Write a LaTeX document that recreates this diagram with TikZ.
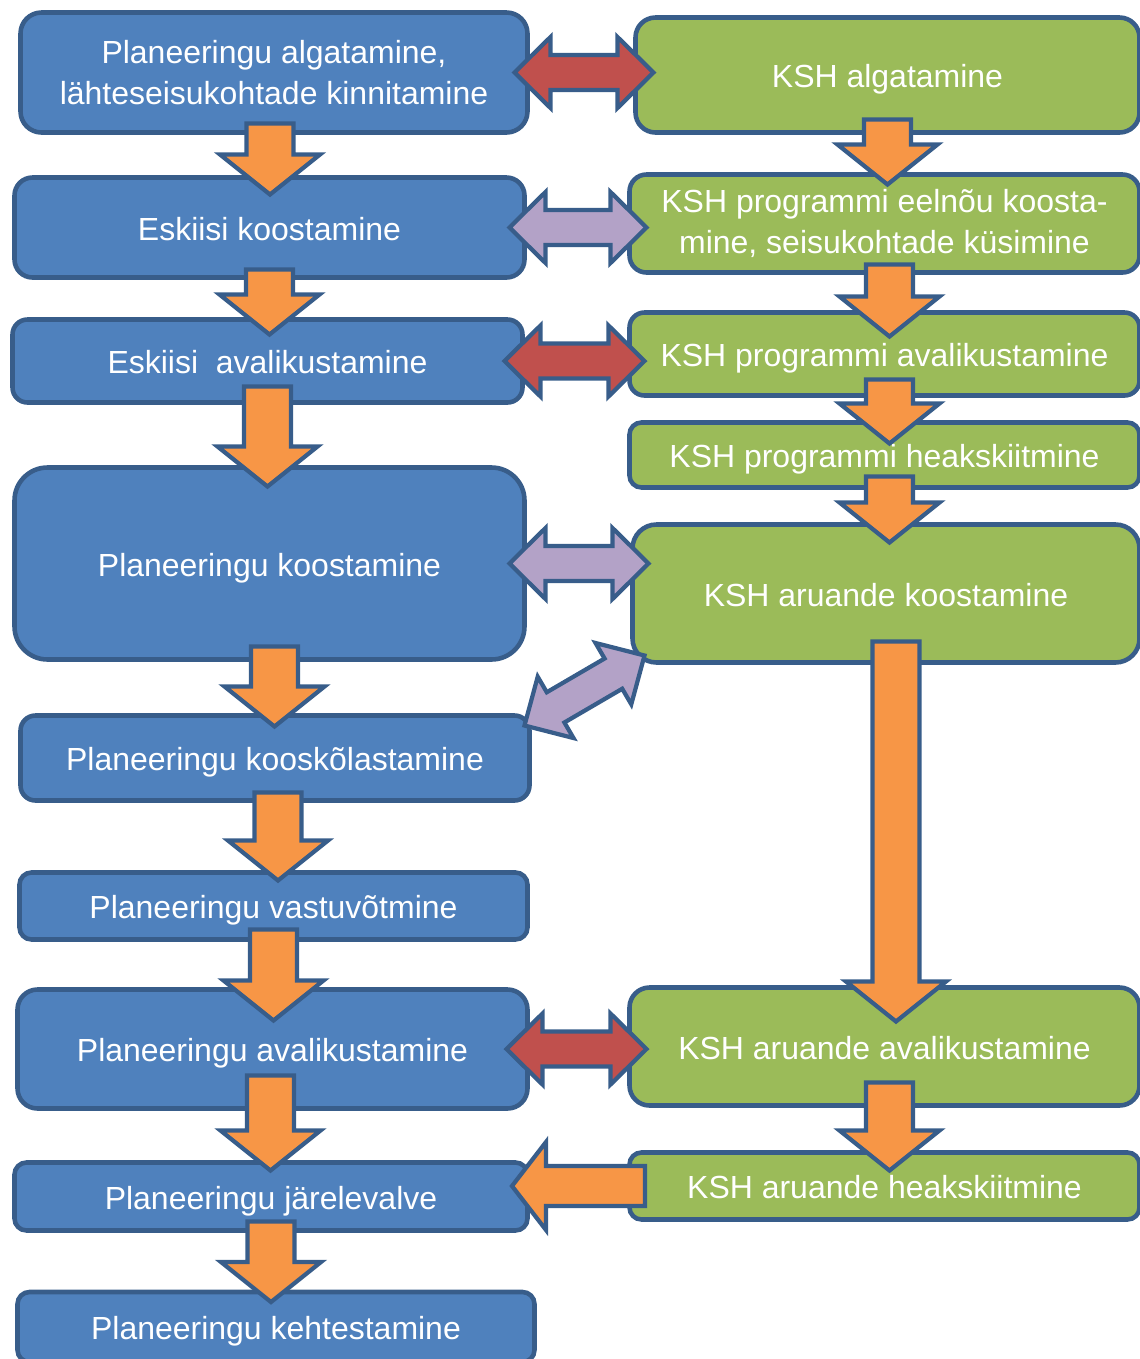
\documentclass[tikz,border=0pt]{standalone}
\usepackage{fontspec}
\setmainfont{Liberation Sans}
\usetikzlibrary{calc}

\definecolor{planB}{HTML}{4F81BD}
\definecolor{kshG}{HTML}{9BBB59}
\definecolor{edgeB}{HTML}{385D8A}
\definecolor{orangeA}{HTML}{F79646}
\definecolor{redA}{HTML}{C0504D}
\definecolor{lilacA}{HTML}{B3A2C7}

% same height and depth for every one-line text
\newcommand{\lstrut}{\rule[-0.21em]{0pt}{1.21em}}

\tikzset{
	stepbox/.style={rectangle, draw=edgeB, line width=1.3pt, text=white, align=center, inner sep=0pt, outer sep=0pt},
	plantwo/.style={stepbox, fill=planB},
	kshtwo/.style={stepbox, fill=kshG},
	planbox/.style={plantwo, execute at begin node=\lstrut},
	kshbox/.style={kshtwo, execute at begin node=\lstrut},
	blockarrow/.style={draw=edgeB, line width=1.2pt, line join=miter}
}

% block arrow from (ba) to (bb): fill, head length, head half width, shaft half width
\newcommand{\blkone}[4]{%
	\draw[blockarrow, fill=#1] (bb) -- ($(bb)!#2!(ba)!#3!90:(ba)$) -- ($(bb)!#2!(ba)!#4!90:(ba)$)
	-- ($(ba)!#4!-90:(bb)$) -- ($(ba)!#4!90:(bb)$)
	-- ($(bb)!#2!(ba)!#4!-90:(ba)$) -- ($(bb)!#2!(ba)!#3!-90:(ba)$) -- cycle;}
% double block arrow between (ba) and (bb)
\newcommand{\blktwo}[4]{%
	\draw[blockarrow, fill=#1] (ba) -- ($(ba)!#2!(bb)!#3!90:(bb)$) -- ($(ba)!#2!(bb)!#4!90:(bb)$)
	-- ($(bb)!#2!(ba)!#4!-90:(ba)$) -- ($(bb)!#2!(ba)!#3!-90:(ba)$) -- (bb)
	-- ($(bb)!#2!(ba)!#3!90:(ba)$) -- ($(bb)!#2!(ba)!#4!90:(ba)$)
	-- ($(ba)!#2!(bb)!#4!-90:(bb)$) -- ($(ba)!#2!(bb)!#3!-90:(bb)$) -- cycle;}
% orange arrow down: [x shift] upper node, lower node, depth in upper, depth in lower
\newcommand{\blkdown}[5][0]{%
	\coordinate (ba) at ($(#2.south)+(#1,-#4)$);
	\coordinate (bb) at ($(ba|-#3.north)+(0,#5)$);
	\blkone{orangeA}{0.4cm}{0.5cm}{0.235cm}}
% double arrow across: colour, left node, right node, depth left, depth right
\newcommand{\blkside}[5]{%
	\coordinate (ba) at ($(#2.east)+(-#4,0)$);
	\coordinate (bb) at ($(ba-|#3.west)+(#5,0)$);
	\blktwo{#1}{0.36cm}{0.355cm}{0.175cm}}

\begin{document}
\begin{tikzpicture}[y=-1cm, font={\fontsize{9.1}{11.6}\selectfont}]
	\useasboundingbox (0,0) rectangle (11.4,13.59);
	% planeering
	\node[plantwo, minimum width=5.07cm, minimum height=1.2cm, rounded corners=0.21cm] (p1) at (2.74,0.725) {Planeeringu algatamine,\\lähteseisukohtade kinnitamine};
	\node[planbox, minimum width=5.1cm, minimum height=1cm, rounded corners=0.18cm] (p2) at (2.695,2.275) {Eskiisi koostamine};
	\node[planbox, minimum width=5.1cm, minimum height=0.83cm, rounded corners=0.15cm] (p3) at (2.675,3.61) {Eskiisi\ \ avalikustamine};
	\node[planbox, minimum width=5.1cm, minimum height=1.92cm, rounded corners=0.33cm] (p4) at (2.695,5.635) {Planeeringu koostamine};
	\node[planbox, minimum width=5.09cm, minimum height=0.85cm, rounded corners=0.15cm] (p5) at (2.75,7.58) {Planeeringu kooskõlastamine};
	\node[planbox, minimum width=5.08cm, minimum height=0.67cm, rounded corners=0.12cm] (p6) at (2.735,9.06) {Planeeringu vastuvõtmine};
	\node[planbox, minimum width=5.1cm, minimum height=1.19cm, rounded corners=0.2cm] (p7) at (2.725,10.49) {Planeeringu avalikustamine};
	\node[planbox, minimum width=5.13cm, minimum height=0.68cm, rounded corners=0.12cm] (p8) at (2.71,11.965) {Planeeringu järelevalve};
	\node[planbox, minimum width=5.17cm, minimum height=0.7cm, rounded corners=0.12cm] (p9) at (2.76,13.27) {Planeeringu kehtestamine};
	% KSH
	\node[kshbox, minimum width=5.04cm, minimum height=1.15cm, rounded corners=0.2cm] (k1) at (8.875,0.75) {KSH algatamine};
	\node[kshtwo, minimum width=5.1cm, minimum height=0.98cm, rounded corners=0.17cm] (k2) at (8.845,2.235) {KSH programmi eelnõu koosta-\\mine, seisukohtade küsimine};
	\node[kshbox, minimum width=5.1cm, minimum height=0.83cm, rounded corners=0.15cm] (k3) at (8.845,3.54) {KSH programmi avalikustamine};
	\node[kshbox, minimum width=5.1cm, minimum height=0.65cm, rounded corners=0.12cm] (k4) at (8.845,4.55) {KSH programmi heakskiitmine};
	\node[kshbox, minimum width=5.07cm, minimum height=1.38cm, rounded corners=0.24cm] (k5) at (8.86,5.935) {KSH aruande koostamine};
	\node[kshbox, minimum width=5.1cm, minimum height=1.18cm, rounded corners=0.2cm] (k6) at (8.845,10.465) {KSH aruande avalikustamine};
	\node[kshbox, minimum width=5.1cm, minimum height=0.67cm, rounded corners=0.12cm] (k7) at (8.845,11.86) {KSH aruande heakskiitmine};
	% down
	\blkdown[-0.04]{p1}{p2}{0.09}{0.17}
	\blkdown{p2}{p3}{0.08}{0.15}
	\blkdown{p3}{p4}{0.16}{0.19}
	\blkdown[0.05]{p4}{p5}{0.13}{0.11}
	\blkdown[0.03]{p5}{p6}{0.08}{0.08}
	\blkdown{p6}{p7}{0.1}{0.31}
	\blkdown[-0.02]{p7}{p8}{0.33}{0.08}
	\blkdown{p8}{p9}{0.09}{0.1}
	\blkdown{k1}{k2}{0.13}{0.1}
	\blkdown[0.05]{k2}{k3}{0.08}{0.24}
	\blkdown[0.05]{k3}{k4}{0.16}{0.21}
	\blkdown[0.05]{k4}{k5}{0.11}{0.18}
	\blkdown[0.1]{k5}{k6}{0.21}{0.34}
	\blkdown[0.05]{k6}{k7}{0.23}{0.18}
	% across
	\blkside{redA}{p1}{k1}{0.13}{0.18}
	\blkside{lilacA}{p2}{k2}{0.15}{0.17}
	\blkside{redA}{p3}{k3}{0.18}{0.15}
	\blkside{lilacA}{p4}{k4}{0.15}{0.19}
	\blkside{redA}{p7}{k6}{0.21}{0.17}
	\coordinate (ba) at ($(p5.north east)+(-0.05,0.1)$);
	\coordinate (bb) at ($(k5.south west)+(0.12,-0.07)$);
	\blktwo{lilacA}{0.36cm}{0.355cm}{0.175cm}
	\coordinate (ba) at ($(k7.west)+(0.155,0)$);
	\coordinate (bb) at ($(ba-|p8.east)+(-0.155,0)$);
	\blkone{orangeA}{0.34cm}{0.44cm}{0.2cm}
\end{tikzpicture}
\end{document}
